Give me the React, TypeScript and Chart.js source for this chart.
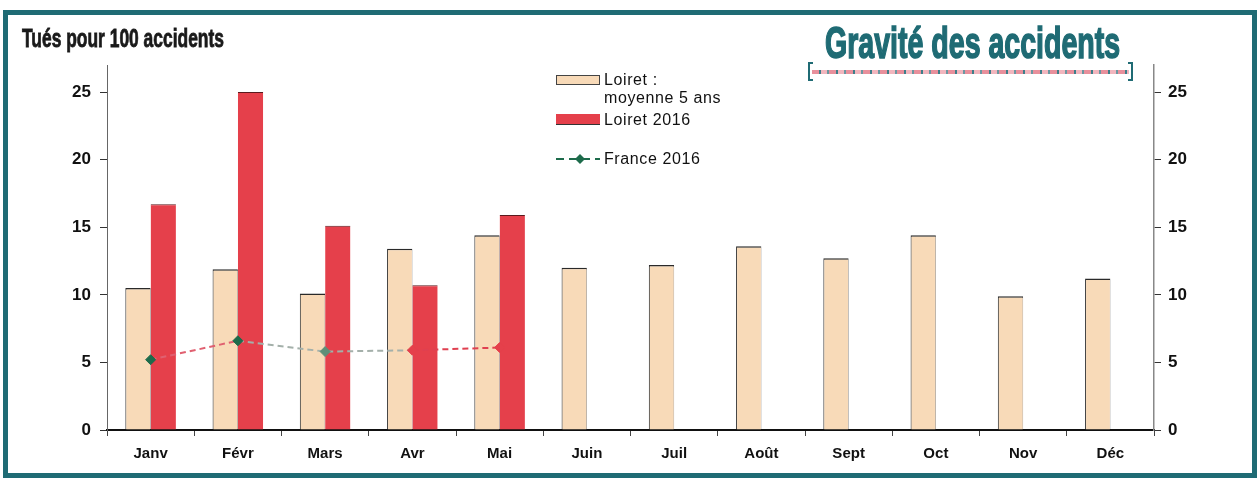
import React, { useEffect, useLayoutEffect, useRef, useState } from "react";
import { Chart, registerables } from "chart.js";

Chart.register(...registerables);

// ---- data ----
const months = ["Janv", "Févr", "Mars", "Avr", "Mai", "Juin", "Juil", "Août", "Sept", "Oct", "Nov", "Déc"];
const loiretMoyenne5ans = [10.5, 11.9, 10.1, 13.4, 14.4, 12.0, 12.2, 13.6, 12.7, 14.4, 9.9, 11.2];
const loiret2016: (number | null)[] = [16.7, 25.0, 15.1, 10.7, 15.9, null, null, null, null, null, null, null];
const france2016: (number | null)[] = [5.2, 6.6, 5.8, 5.9, 6.1, null, null, null, null, null, null, null];
const yTickValues = [0, 5, 10, 15, 20, 25];

const seriesNames = ["Loiret :\nmoyenne 5 ans", "Loiret 2016", "France 2016"];
const chartTitle = "Gravité des accidents";
const yAxisTitle = "Tués pour 100 accidents";

// ---- styles ----
const BEIGE = "#f8dab8";
const RED = "#e5404b";
const GREEN = "#1d6b4b";
const TEAL = "#1f6b74";
const lineSegColors = ["#e06070", "#a4b0aa", "#a4b0aa", "#e04050"];
const linePointColors = [GREEN, GREEN, "#5f8f78", RED, RED];
const FONT = "'Liberation Sans', Arial, Helvetica, sans-serif";
const NARROW = "'Liberation Sans Narrow', 'Arial Narrow', 'Liberation Sans', Arial, sans-serif";

function FitText({ text, width, style }: { text: string; width: number; style: React.CSSProperties }) {
  const ref = useRef<HTMLSpanElement>(null);
  const [s, setS] = useState(1);
  useLayoutEffect(() => {
    if (ref.current) {
      const w = ref.current.offsetWidth;
      if (w > 0) setS(width / w);
    }
  }, [text, width]);
  return (
    <span
      ref={ref}
      style={{
        ...style,
        display: "inline-block",
        whiteSpace: "nowrap",
        transform: `scaleX(${s})`,
        transformOrigin: "left top",
      }}
    >
      {text}
    </span>
  );
}

export default function App() {
  const canvasRef = useRef<HTMLCanvasElement>(null);

  useEffect(() => {
    document.body.style.margin = "0";
    const ctx = canvasRef.current!.getContext("2d")!;
    const yCommon = (pos: "left" | "right", width: number) => ({
      type: "linear" as const,
      position: pos,
      min: 0,
      max: 27,
      afterBuildTicks: (s: any) => {
        s.ticks = yTickValues.map((v) => ({ value: v }));
      },
      afterFit: (s: any) => {
        s.width = width;
      },
      grid: { drawOnChartArea: false, drawTicks: true, tickLength: 7, color: "#333", lineWidth: 1 },
      border: { display: true, color: pos === "left" ? "#666" : "#888", width: pos === "left" ? 1 : 1.5 },
      ticks: {
        color: "#111",
        padding: pos === "left" ? 9 : 7,
        font: { family: FONT, size: 17, weight: "bold" as const },
      },
    });

    const chart = new Chart(ctx, {
      type: "bar",
      data: {
        labels: months,
        datasets: [
          {
            type: "line",
            label: seriesNames[2],
            data: france2016 as any,
            order: 0,
            borderWidth: 2,
            borderDash: [6, 4],
            borderColor: lineSegColors[0],
            segment: {
              borderColor: (c: any) => lineSegColors[c.p0DataIndex] || lineSegColors[0],
            },
            pointStyle: "rectRot",
            pointRadius: 5,
            pointBackgroundColor: linePointColors,
            pointBorderColor: linePointColors,
            pointBorderWidth: 1,
            fill: false,
            tension: 0,
            yAxisID: "y",
          } as any,
          {
            type: "bar",
            label: seriesNames[0],
            data: loiretMoyenne5ans,
            order: 1,
            backgroundColor: BEIGE,
            borderColor: "#2a2a2a",
            borderWidth: { top: 1.5, left: 1, right: 0.5, bottom: 0 },
            borderSkipped: false,
            yAxisID: "y",
          } as any,
          {
            type: "bar",
            label: seriesNames[1],
            data: loiret2016 as any,
            order: 1,
            backgroundColor: RED,
            borderColor: "#5a1a1e",
            borderWidth: { top: 1, left: 0, right: 0, bottom: 0 },
            borderSkipped: false,
            yAxisID: "y",
          } as any,
        ],
      },
      options: {
        animation: false,
        responsive: false,
        maintainAspectRatio: false,
        layout: { padding: { top: 65, left: 0, right: 0, bottom: 0 } },
        datasets: { bar: { categoryPercentage: 0.58, barPercentage: 1 } },
        plugins: { legend: { display: false }, tooltip: { enabled: false }, title: { display: false } },
        scales: {
          x: {
            type: "category",
            offset: true,
            afterFit: (s: any) => {
              s.height = 50;
            },
            grid: { offset: true, drawOnChartArea: false, drawTicks: true, tickLength: 6, color: "#444" },
            border: { display: true, color: "#111", width: 2 },
            ticks: { color: "#111", padding: 9, font: { family: FONT, size: 15, weight: "bold" } },
          },
          y: yCommon("left", 107) as any,
          y2: yCommon("right", 106) as any,
        },
      } as any,
    });
    return () => chart.destroy();
  }, []);

  const legendText: React.CSSProperties = {
    position: "absolute",
    fontFamily: FONT,
    fontSize: 16,
    lineHeight: "18px",
    color: "#111",
    whiteSpace: "nowrap",
    letterSpacing: 0.6,
  };
  const nameLines = seriesNames[0].split("\n");

  return (
    <div style={{ position: "relative", width: 1260, height: 480, background: "#fff", overflow: "hidden" }}>
      <canvas ref={canvasRef} width={1260} height={480} style={{ position: "absolute", left: 0, top: 0, width: 1260, height: 480 }} />

      {/* frame */}
      <div
        style={{
          position: "absolute",
          left: 3,
          top: 10,
          width: 1254,
          height: 468,
          boxSizing: "border-box",
          border: `5px solid ${TEAL}`,
          pointerEvents: "none",
        }}
      />

      {/* y axis title */}
      <div style={{ position: "absolute", left: 22, top: 26 }}>
        <FitText
          text={yAxisTitle}
          width={202}
          style={{
            fontFamily: NARROW,
            fontWeight: "bold",
            fontSize: 25,
            lineHeight: 1,
            color: "#1a1a1a",
            WebkitTextStroke: "0.8px #1a1a1a",
          }}
        />
      </div>

      {/* chart title */}
      <div style={{ position: "absolute", left: 825, top: 20 }}>
        <FitText
          text={chartTitle}
          width={295}
          style={{
            fontFamily: NARROW,
            fontWeight: "bold",
            fontSize: 45,
            lineHeight: 1,
            color: TEAL,
            WebkitTextStroke: `1.6px ${TEAL}`,
          }}
        />
      </div>
      {/* decorative bracket under title */}
      <div
        style={{
          position: "absolute",
          left: 808,
          top: 62,
          width: 325,
          height: 19,
          boxSizing: "border-box",
          borderLeft: `2px solid ${TEAL}`,
          borderRight: `2px solid ${TEAL}`,
        }}
      >
        <div
          style={{
            position: "absolute",
            left: 2,
            right: 2,
            top: 8,
            height: 4,
            background:
              "repeating-linear-gradient(90deg, #e8909c 0px, #e8909c 7px, #3d7f8a 7px, #3d7f8a 9px, #f2b6be 9px, #f2b6be 15px, #6a98a2 15px, #6a98a2 17px)",
          }}
        />
        <div style={{ position: "absolute", left: -2, top: 0, width: 5, height: 2, background: TEAL }} />
        <div style={{ position: "absolute", left: -2, bottom: 0, width: 5, height: 2, background: TEAL }} />
        <div style={{ position: "absolute", right: -2, top: 0, width: 5, height: 2, background: TEAL }} />
        <div style={{ position: "absolute", right: -2, bottom: 0, width: 5, height: 2, background: TEAL }} />
      </div>

      {/* legend */}
      <div
        style={{
          position: "absolute",
          left: 556,
          top: 75,
          width: 44,
          height: 10,
          boxSizing: "border-box",
          background: BEIGE,
          border: "1px solid #444",
        }}
      />
      <div style={{ ...legendText, left: 604, top: 71 }}>{nameLines[0]}</div>
      <div style={{ ...legendText, left: 604, top: 89 }}>{nameLines[1]}</div>
      <div
        style={{
          position: "absolute",
          left: 556,
          top: 114,
          width: 44,
          height: 11,
          boxSizing: "border-box",
          background: RED,
          borderBottom: "1.5px solid #333",
        }}
      />
      <div style={{ ...legendText, left: 604, top: 111 }}>{seriesNames[1]}</div>
      <svg style={{ position: "absolute", left: 554, top: 151 }} width={50} height={16}>
        <line x1={2} y1={8} x2={46} y2={8} stroke={GREEN} strokeWidth={2} strokeDasharray="8 5" />
        <polygon points="26,3 31,8 26,13 21,8" fill={GREEN} />
      </svg>
      <div style={{ ...legendText, left: 604, top: 150 }}>{seriesNames[2]}</div>
    </div>
  );
}
